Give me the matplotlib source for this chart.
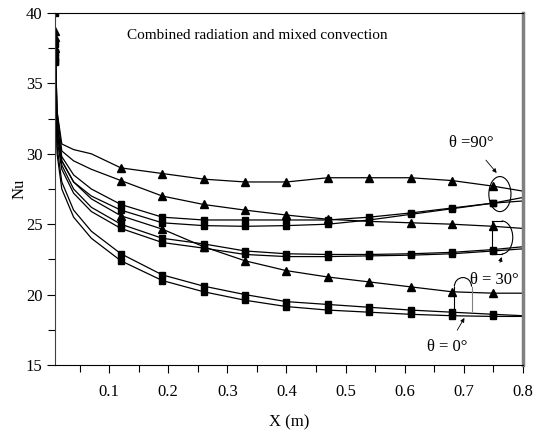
import numpy as np
from matplotlib import pyplot as plt
from matplotlib.patches import Ellipse, Arc
from matplotlib.ticker import MultipleLocator

# axial positions (m); markers drawn at index 0 and 5..14
x = [0.0085, 0.012, 0.02, 0.04, 0.07, 0.12, 0.19, 0.26, 0.33, 0.40,
     0.47, 0.54, 0.61, 0.68, 0.75, 0.80]
mark_idx = [0, 5, 6, 7, 8, 9, 10, 11, 12, 13, 14]

# triangle curves
nu_t90 = [38.7, 33.0, 30.7, 30.3, 30.0, 29.0, 28.6, 28.2, 28.0, 28.0, 28.3, 28.3, 28.3, 28.1, 27.7, 27.35]
nu_t30 = [38.3, 33.0, 30.2, 29.5, 28.9, 28.1, 27.0, 26.4, 26.0, 25.65, 25.35, 25.2, 25.1, 25.0, 24.85, 24.7]
nu_t0 = [37.5, 32.5, 29.5, 28.0, 26.8, 25.6, 24.65, 23.4, 22.4, 21.7, 21.25, 20.9, 20.55, 20.2, 20.1, 20.1]

# square curves (each drawn as a close pair)
nu_s90 = [40.0, 32.0, 29.8, 28.5, 27.5, 26.4, 25.5, 25.3, 25.3, 25.3, 25.3, 25.5, 25.8, 26.15, 26.5, 26.65]
nu_s90b = [37.8, 31.5, 29.5, 28.0, 27.0, 26.0, 25.1, 24.9, 24.85, 24.9, 25.0, 25.3, 25.7, 26.1, 26.5, 26.9]
nu_s30 = [37.2, 31.5, 29.2, 27.5, 26.2, 25.0, 24.0, 23.6, 23.1, 22.9, 22.85, 22.85, 22.9, 23.0, 23.2, 23.4]
nu_s30b = [36.9, 31.0, 28.9, 27.2, 25.9, 24.7, 23.7, 23.3, 22.85, 22.7, 22.7, 22.75, 22.8, 22.9, 23.1, 23.25]
nu_s0 = [36.6, 30.5, 28.0, 26.0, 24.5, 22.9, 21.4, 20.6, 20.0, 19.5, 19.3, 19.1, 18.9, 18.75, 18.6, 18.5]
nu_s0b = [36.5, 30.0, 27.5, 25.5, 24.0, 22.4, 21.0, 20.2, 19.6, 19.15, 18.9, 18.75, 18.6, 18.5, 18.45, 18.45]

plt.rcParams['font.family'] = ['Liberation Serif', 'DejaVu Serif']

fig = plt.figure(figsize=(5.36, 4.34), dpi=100)
ax = fig.add_axes([0.1026, 0.159, 0.8731, 0.811])

for y in [nu_t90, nu_t30, nu_t0]:
    ax.plot(x, y, color='k', lw=0.9, marker='^', ms=6, markevery=mark_idx)
for y in [nu_s90, nu_s90b, nu_s30, nu_s30b, nu_s0, nu_s0b]:
    ax.plot(x, y, color='k', lw=0.9, marker='s', ms=5, markevery=mark_idx)

ax.set_xlim(0.0085, 0.8)
ax.set_ylim(15, 40)
ax.xaxis.set_major_locator(MultipleLocator(0.1))
ax.xaxis.set_minor_locator(MultipleLocator(0.05))
ax.yaxis.set_major_locator(MultipleLocator(5))
ax.yaxis.set_minor_locator(MultipleLocator(2.5))
ax.set_xticks([0.1, 0.2, 0.3, 0.4, 0.5, 0.6, 0.7, 0.8])
ax.set_xticklabels(['0.1', '0.2', '0.3', '0.4', '0.5', '0.6', '0.7', '0.8'])
ax.tick_params(which='major', direction='out', length=6, width=0.8, labelsize=12, pad=8)
ax.tick_params(which='minor', direction='out', length=5, width=0.8)
ax.tick_params(axis='y', pad=3)

ax.spines['right'].set_color('#808080')
ax.spines['right'].set_linewidth(2.5)
ax.spines['left'].set_color('#404040')

ax.set_xlabel('X (m)', fontsize=12, labelpad=10)
ax.set_ylabel('Nu', fontsize=12, labelpad=-1)

ax.text(0.351, 38.37, 'Combined radiation and mixed convection', fontsize=11,
        ha='center', va='center')

# theta = 90
ax.add_patch(Ellipse((0.761, 27.14), 0.0374, 2.49, fill=False, lw=0.8, color='k'))
ax.annotate('θ =90°', xy=(0.7555, 28.64), xytext=(0.713, 30.77), fontsize=12,
            ha='center', va='center',
            arrowprops=dict(arrowstyle='-|>', lw=0.6, color='k', mutation_scale=6,
                            shrinkA=6, shrinkB=0))

# theta = 30
ax.plot([0.7470, 0.7470], [22.89, 25.23], color='k', lw=0.8)
ax.plot([0.7470, 0.7640], [25.23, 25.23], color='k', lw=0.8)
ax.plot([0.7470, 0.7640], [22.89, 22.89], color='k', lw=0.8)
ax.add_patch(Arc((0.764, 24.06), 0.0374, 2.34, theta1=-90, theta2=90, lw=0.8, color='k'))
ax.annotate('θ = 30°', xy=(0.764, 22.67), xytext=(0.752, 21.04), fontsize=12,
            ha='center', va='center',
            arrowprops=dict(arrowstyle='-|>', lw=0.6, color='k', mutation_scale=6,
                            shrinkA=5, shrinkB=0))

# theta = 0
ax.plot([0.684, 0.684], [18.86, 20.57], color='k', lw=0.8)
ax.plot([0.713, 0.713], [18.86, 20.57], color='#808080', lw=0.8)
ax.add_patch(Arc((0.6985, 20.57), 0.029, 1.28, theta1=0, theta2=180, lw=0.8, color='k'))
ax.annotate('θ = 0°', xy=(0.701, 18.34), xytext=(0.672, 16.28), fontsize=12,
            ha='center', va='center',
            arrowprops=dict(arrowstyle='-|>', lw=0.6, color='k', mutation_scale=6,
                            shrinkA=5, shrinkB=0))

fig.savefig('out.png', dpi=100)
